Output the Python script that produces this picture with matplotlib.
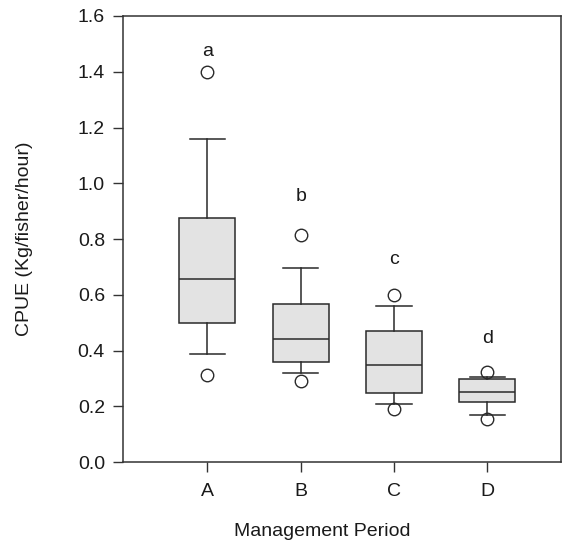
import matplotlib
matplotlib.use("Agg")
from matplotlib import pyplot as plt

plt.rcParams['font.family'] = ['Liberation Sans', 'DejaVu Sans']

# management periods and box statistics (CPUE, Kg/fisher/hour)
periods = ['A', 'B', 'C', 'D']
medians = [0.656, 0.442, 0.347, 0.252]
q1 = [0.497, 0.358, 0.249, 0.214]
q3 = [0.875, 0.566, 0.470, 0.297]
whis_lo = [0.388, 0.321, 0.208, 0.169]
whis_hi = [1.159, 0.695, 0.561, 0.306]
outliers = [[1.399, 0.312], [0.815, 0.291], [0.600, 0.189], [0.322, 0.153]]
letters = ['a', 'b', 'c', 'd']
letter_y = [1.473, 0.953, 0.728, 0.444]

stats = []
for i in range(len(periods)):
    stats.append({'med': medians[i], 'q1': q1[i], 'q3': q3[i],
                  'whislo': whis_lo[i], 'whishi': whis_hi[i],
                  'fliers': outliers[i], 'label': periods[i]})

fig = plt.figure(figsize=(5.63, 5.46), dpi=100)
ax = fig.add_axes([0.2185, 0.1538, 0.7779, 0.8169])

line_c = '#2a2a2a'
pos = [1, 2, 3, 4]
ax.bxp(stats, positions=pos, widths=0.6, patch_artist=True,
       boxprops=dict(facecolor='#e3e3e3', edgecolor=line_c, linewidth=1.1),
       medianprops=dict(color=line_c, linewidth=1.1),
       whiskerprops=dict(color=line_c, linewidth=1.1),
       capprops=dict(color=line_c, linewidth=1.1),
       capwidths=0.38,
       flierprops=dict(marker='o', markersize=9, markerfacecolor='none',
                       markeredgecolor=line_c, markeredgewidth=1.0))

for p, t, y in zip(pos, letters, letter_y):
    ax.text(p, y, t, ha='center', va='center', fontsize=14, color='#1a1a1a')

ax.set_xlim(0.096, 4.79)
ax.set_ylim(0, 1.6)
ax.set_yticks([0.0, 0.2, 0.4, 0.6, 0.8, 1.0, 1.2, 1.4, 1.6])
ax.set_yticklabels(['0.0', '0.2', '0.4', '0.6', '0.8', '1.0', '1.2', '1.4', '1.6'])
ax.set_xticks(pos)
ax.set_xticklabels(periods)
ax.tick_params(direction='out', length=7, width=1, colors='#333333',
               labelsize=14, pad=6, labelcolor='#1a1a1a')
ax.tick_params(axis='x', pad=8)

for s in ax.spines.values():
    s.set_color('#333333')
    s.set_linewidth(1.1)

ax.set_xlabel('Management Period', fontsize=14, color='#1a1a1a')
ax.xaxis.set_label_coords(0.454, -0.137)
ax.set_ylabel('CPUE (Kg/fisher/hour)', fontsize=14, color='#1a1a1a')
ax.yaxis.set_label_coords(-0.205, 0.5)

fig.savefig('out.png', dpi=100)
